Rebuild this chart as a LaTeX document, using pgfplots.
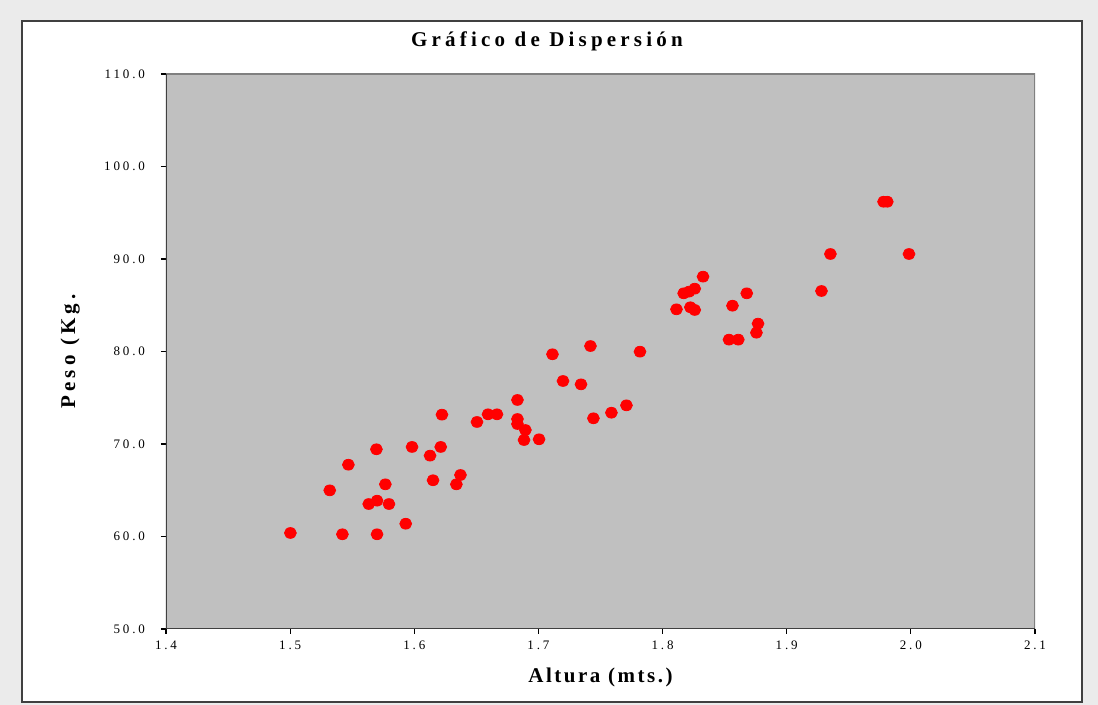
\documentclass[border=0pt]{standalone}
\usepackage{pgfplots}
\pgfplotsset{compat=1.18}
\usepackage{fontspec}
\setmainfont{Liberation Serif}
\newfontfamily\tickfont[LetterSpace=22]{Liberation Serif}
\newfontfamily\titlefont[LetterSpace=20]{Liberation Serif}
\newfontfamily\labfont[LetterSpace=12]{Liberation Serif}
\newfontfamily\ylabfont[LetterSpace=20]{Liberation Serif}
\definecolor{bgout}{HTML}{EBEBEB}
\definecolor{plotbg}{HTML}{C0C0C0}
\definecolor{frame}{HTML}{404040}
\begin{document}
\begin{tikzpicture}
\fill[bgout] (0,0) rectangle (549pt,352.5pt);
\filldraw[fill=white, draw=frame, line width=0.75pt] (11pt,1.5pt) rectangle (541pt,342pt);
\begin{axis}[
  at={(83pt,38pt)}, anchor=south west,
  scale only axis, width=434.5pt, height=277.5pt,
  xmin=1.4, xmax=2.1, ymin=50, ymax=110,
  xtick={1.4,1.5,1.6,1.7,1.8,1.9,2.0,2.1},
  xticklabels={1.4,1.5,1.6,1.7,1.8,1.9,2.0,2.1},
  ytick={50,60,70,80,90,100,110},
  yticklabels={50.0,60.0,70.0,80.0,90.0,100.0,110.0},
  tick align=outside, tick pos=left,
  major tick length=2.5pt,
  tick style={black, line width=0.6pt},
  axis line style={draw=none},
  axis background/.style={fill=plotbg},
  ticklabel style={font=\tickfont\fontsize{6.5}{7}\selectfont},
  yticklabel style={xshift=-4.5pt},
  title={\titlefont\bfseries Gráfico de Dispersión},
  title style={at={(axis description cs:0.4384,1.0288)}, anchor=base, font=\fontsize{10.5}{12}\selectfont},
  xlabel={\labfont\bfseries Altura (mts.)},
  xlabel style={at={(axis description cs:0.5,-0.0973)}, anchor=base, font=\fontsize{10.5}{12}\selectfont},
  ylabel={\ylabfont\bfseries Peso (Kg.},
  ylabel style={at={(axis description cs:-0.1047,0.5)}, anchor=base, font=\fontsize{10.5}{12}\selectfont},
]
\addplot[only marks, mark=*, mark size=2.7pt, mark options={fill=red, draw=red, xscale=1.1}] table {
x y
1.6223 73.17
1.5695 69.43
1.5982 69.68
1.6213 69.68
1.6127 68.74
1.5469 67.76
1.6372 66.65
1.6151 66.08
1.6339 65.64
1.5767 65.64
1.5319 64.99
1.5633 63.51
1.5700 63.87
1.5796 63.51
1.5931 61.38
1.5002 60.38
1.5421 60.24
1.5700 60.24
1.7419 80.59
1.7113 79.70
1.7818 79.98
1.7198 76.81
1.7343 76.45
1.6831 74.76
1.6594 73.21
1.6666 73.21
1.6505 72.38
1.6831 72.70
1.6831 72.16
1.7709 74.18
1.7588 73.38
1.7443 72.78
1.6895 71.51
1.6884 70.43
1.7005 70.51
1.9352 90.54
1.9985 90.54
1.8326 88.09
1.8259 86.79
1.8170 86.29
1.8213 86.47
1.8678 86.29
1.9280 86.54
1.8563 84.95
1.8112 84.56
1.8224 84.78
1.8259 84.49
1.8769 83.01
1.8756 82.03
1.8535 81.28
1.8610 81.28
1.9780 96.19
1.9810 96.19
};
\draw[gray, line width=0.9pt] (rel axis cs:0,1) -- (rel axis cs:1,1) -- (rel axis cs:1,0);
\draw[frame, line width=0.9pt] (rel axis cs:0,1) -- (rel axis cs:0,0) -- (rel axis cs:1,0);
\end{axis}
\pgfresetboundingbox
\useasboundingbox (0,0) rectangle (549pt,352.5pt);
\end{tikzpicture}
\end{document}
